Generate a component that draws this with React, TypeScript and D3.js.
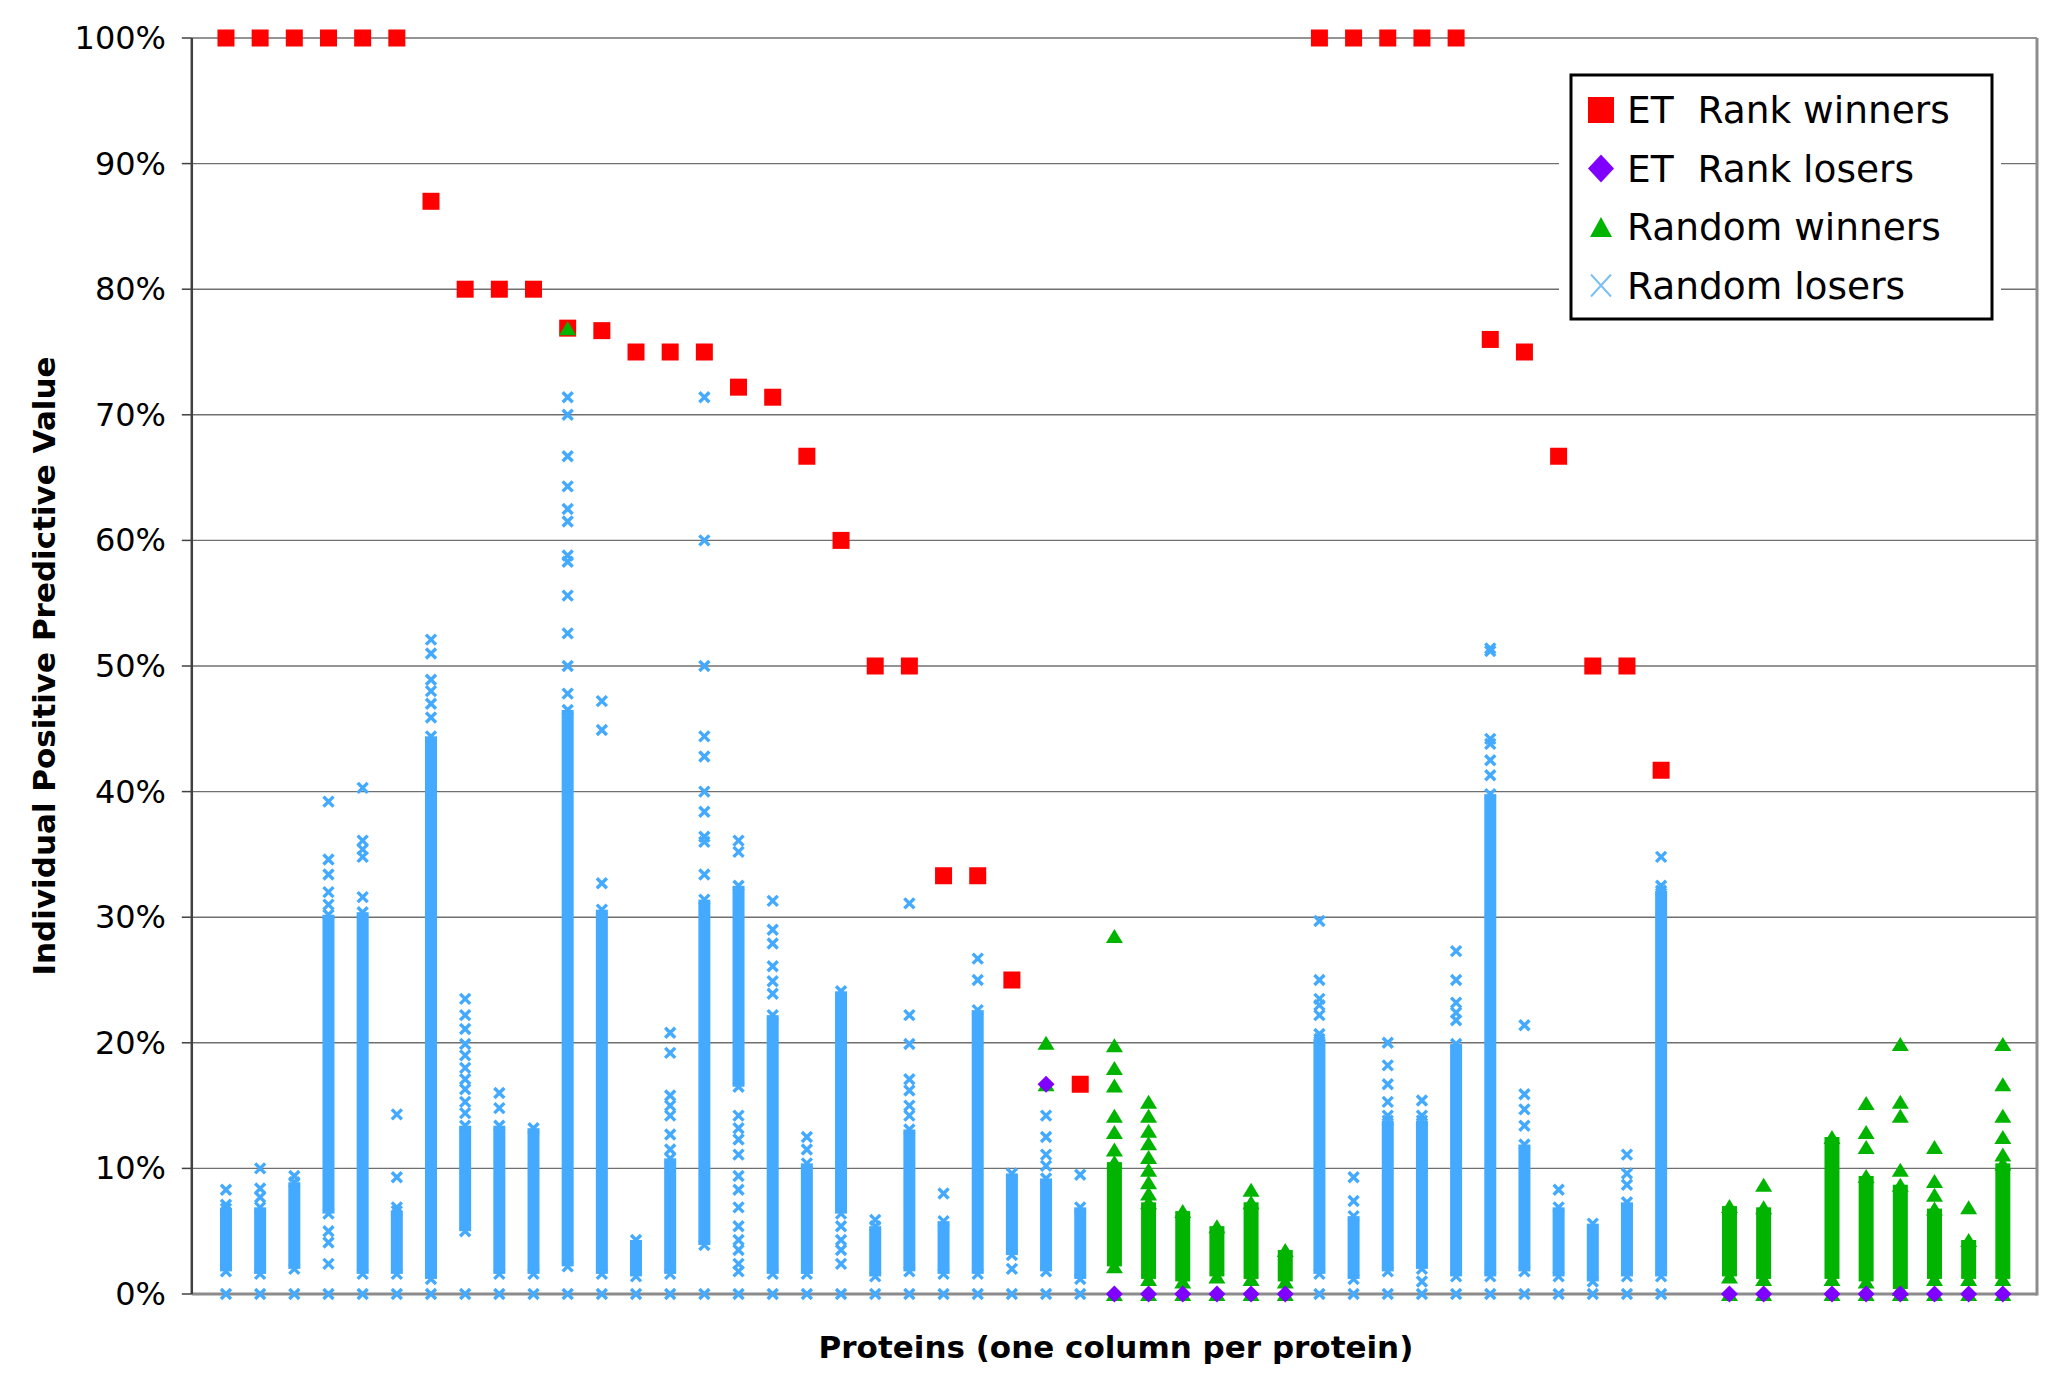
import * as d3 from 'd3'

// ET Rank winners: [protein column, PPV %]
const etWinners: [number, number][] = [
  [1, 100], [2, 100], [3, 100], [4, 100], [5, 100], [6, 100], [7, 87],
  [8, 80], [9, 80], [10, 80], [11, 76.9], [12, 76.7], [13, 75], [14, 75],
  [15, 75], [16, 72.2], [17, 71.4], [18, 66.7], [19, 60], [20, 50], [21, 50],
  [22, 33.3], [23, 33.3], [24, 25], [26, 16.7], [33, 100], [34, 100],
  [35, 100], [36, 100], [37, 100], [38, 76], [39, 75], [40, 66.7], [41, 50],
  [42, 50], [43, 41.7],
]

// ET Rank losers
const etLosers: [number, number][] = [
  [25, 16.7], [27, 0], [28, 0], [29, 0], [30, 0], [31, 0], [32, 0],
  [45, 0], [46, 0], [48, 0], [49, 0], [50, 0], [51, 0], [52, 0], [53, 0],
]

// Random winners: dense runs [column, low %, high %] and single points
const randomWinnerRuns: [number, number, number][] = [
  [27, 2.2, 10.5], [28, 1.2, 7.3], [29, 1.0, 6.6], [30, 1.4, 5.4],
  [31, 1.2, 7.3], [32, 1.0, 3.5], [45, 1.4, 7.0], [46, 1.2, 6.9],
  [48, 1.2, 12.5], [49, 1.0, 9.4], [50, 0.4, 8.7], [51, 1.2, 6.8],
  [52, 1.2, 4.3], [53, 1.2, 10.4],
]
const randomWinners: [number, number][] = [
  [11, 76.9], [25, 16.7], [25, 20],
  [27, 11.5], [27, 12.9], [27, 14.2], [27, 16.6], [27, 18], [27, 19.8], [27, 28.5],
  [28, 8.0], [28, 8.9], [28, 9.9], [28, 10.9], [28, 12], [28, 13], [28, 14.2], [28, 15.3],
  [31, 8.3], [46, 8.7], [49, 11.7], [49, 12.9], [49, 15.2],
  [50, 9.9], [50, 14.2], [50, 15.3], [50, 19.9],
  [51, 7.9], [51, 9.0], [51, 11.7], [52, 6.9],
  [53, 11.1], [53, 12.5], [53, 14.2], [53, 16.7], [53, 19.9],
]
const randomWinnerZeroCols = [27, 28, 29, 30, 31, 32, 45, 46, 48, 49, 50, 51, 52, 53]

// Random losers: dense runs [column, low %, high %] and single points
const randomLoserRuns: [number, number, number][] = [
  [1, 1.8, 6.8], [2, 1.6, 6.9], [3, 2.0, 8.9], [4, 6.4, 30.2], [5, 1.6, 30.4],
  [6, 1.6, 6.6], [7, 1.2, 44.4], [8, 5.0, 13.4], [9, 1.6, 13.4], [10, 1.6, 13.2],
  [11, 2.2, 46.5], [12, 1.6, 30.6], [13, 1.4, 4.3], [14, 1.6, 10.8], [15, 3.9, 31.4],
  [16, 16.5, 32.5], [17, 1.6, 22.2], [18, 1.6, 10.4], [19, 6.4, 24.1], [20, 1.4, 5.4],
  [21, 1.8, 13.1], [22, 1.6, 5.8], [23, 1.6, 22.6], [24, 3.1, 9.6], [25, 1.8, 9.2],
  [26, 1.2, 6.9], [33, 1.6, 20.3], [34, 1.2, 6.2], [35, 1.8, 13.8], [36, 2.0, 13.8],
  [37, 1.4, 19.9], [38, 1.4, 39.8], [39, 1.8, 11.9], [40, 1.4, 6.9], [41, 1.0, 5.6],
  [42, 1.4, 7.3], [43, 1.4, 32.1],
]
const randomLosers: [number, number][] = [
  [1, 7.1], [1, 8.3], [2, 7.7], [2, 8.4], [2, 10], [3, 9.4],
  [4, 2.4], [4, 4.1], [4, 5.0], [4, 31], [4, 32], [4, 33.4], [4, 34.6], [4, 39.2],
  [5, 31.6], [5, 34.8], [5, 35.4], [5, 36.1], [5, 40.3],
  [6, 6.9], [6, 9.3], [6, 14.3],
  [7, 45.9], [7, 47], [7, 48], [7, 48.9], [7, 51], [7, 52.1],
  [8, 14.4], [8, 15.3], [8, 16.3], [8, 17.1], [8, 18], [8, 19], [8, 19.9], [8, 21.1], [8, 22.2], [8, 23.5],
  [9, 14.8], [9, 16],
  [11, 47.8], [11, 50], [11, 52.6], [11, 55.6], [11, 58.3], [11, 58.8], [11, 61.5],
  [11, 62.5], [11, 64.3], [11, 66.7], [11, 70], [11, 71.4],
  [12, 32.7], [12, 44.9], [12, 47.2],
  [14, 11.5], [14, 12.7], [14, 14.2], [14, 15], [14, 15.8], [14, 19.2], [14, 20.8],
  [15, 33.4], [15, 36], [15, 36.4], [15, 38.4], [15, 40], [15, 42.8], [15, 44.4],
  [15, 50], [15, 60], [15, 71.4],
  [16, 1.8], [16, 2.4], [16, 3.5], [16, 4.3], [16, 5.4], [16, 6.9], [16, 8.3], [16, 9.4],
  [16, 11.1], [16, 12.3], [16, 13.2], [16, 14.2], [16, 35.2], [16, 36.1],
  [17, 23.9], [17, 24.9], [17, 26.1], [17, 27.9], [17, 29], [17, 31.3],
  [18, 11.5], [18, 12.5], [19, 2.4], [19, 3.5], [19, 4.3], [19, 5.4], [20, 5.9],
  [21, 14.2], [21, 15], [21, 16.2], [21, 17.1], [21, 19.9], [21, 22.2], [21, 31.1],
  [22, 8], [23, 25], [23, 26.7], [24, 2.0],
  [25, 10.2], [25, 11.1], [25, 12.5], [25, 14.2], [26, 9.5],
  [33, 20.7], [33, 22.2], [33, 23], [33, 23.5], [33, 25], [33, 29.7],
  [34, 7.4], [34, 9.3],
  [35, 14.2], [35, 15.3], [35, 16.7], [35, 18.2], [35, 20],
  [36, 1.0], [36, 14.2], [36, 15.4],
  [37, 21.8], [37, 22.4], [37, 23.2], [37, 25], [37, 27.3],
  [38, 41.3], [38, 42.5], [38, 43.8], [38, 44.2], [38, 51.2], [38, 51.4],
  [39, 13.4], [39, 14.7], [39, 15.9], [39, 21.4], [40, 8.3],
  [42, 8.7], [42, 9.6], [42, 11.1], [43, 32.5], [43, 34.8],
]
const randomLoserZeroCols = [
  1, 2, 3, 4, 5, 6, 7, 8, 9, 10, 11, 12, 13, 14, 15, 16, 17, 18, 19, 20, 21, 22,
  23, 24, 25, 26, 33, 34, 35, 36, 37, 38, 39, 40, 41, 42, 43,
]

const yTicks = [0, 10, 20, 30, 40, 50, 60, 70, 80, 90, 100]
const legendLabels = ['ET  Rank winners', 'ET  Rank losers', 'Random winners', 'Random losers']

const RED = '#ff0000'
const PURPLE = '#7f00ff'
const GREEN = '#00b400'
const BLUE = '#44aaff'
const FONT = '"DejaVu Sans", Verdana, sans-serif'

const square = 'M-8.5,-8.5H8.5V8.5H-8.5Z'
const diamond = 'M0,-8.5L8.5,0L0,8.5L-8.5,0Z'
const triangle = 'M0,-7L8.5,7L-8.5,7Z'
const cross = 'M-5,-5L5,5M-5,5L5,-5'

const App = () => {
  const width = 2071
  const height = 1389
  const left = 191.8
  const right = 2037
  const top = 38
  const bottom = 1294

  const x = d3.scaleLinear().domain([0, 54]).range([left, right])
  const y = d3.scaleLinear().domain([0, 100]).range([bottom, top])

  const loserPts: [number, number][] = [
    ...randomLosers,
    ...randomLoserZeroCols.map((c) => [c, 0] as [number, number]),
    ...randomLoserRuns.flatMap(([c, lo, hi]) => [[c, lo], [c, hi]] as [number, number][]),
  ]
  const winnerPts: [number, number][] = [
    ...randomWinners,
    ...randomWinnerZeroCols.map((c) => [c, 0] as [number, number]),
    ...randomWinnerRuns.flatMap(([c, lo, hi]) => [[c, lo], [c, hi]] as [number, number][]),
  ]

  return (
    <svg
      width={width}
      height={height}
      style={{ position: 'absolute', left: 0, top: 0, background: '#fff' }}
      fontFamily={FONT}
    >
      <rect width={width} height={height} fill="#fff" />

      {/* gridlines */}
      {yTicks.filter((t) => t > 0).map((t) => (
        <line key={t} x1={left} x2={right} y1={y(t)} y2={y(t)} stroke="#707070" strokeWidth={1.4} />
      ))}
      <line x1={left} x2={right} y1={bottom} y2={bottom} stroke="#8c8c8c" strokeWidth={3} />
      <line x1={right} x2={right} y1={top} y2={bottom + 1.5} stroke="#8c8c8c" strokeWidth={3} />
      <line x1={left} x2={left} y1={top} y2={bottom} stroke="#404040" strokeWidth={2.5} />
      {yTicks.map((t) => (
        <g key={t}>
          <line x1={left - 10} x2={left} y1={y(t)} y2={y(t)} stroke="#404040" strokeWidth={1.5} />
          <text x={166} y={y(t) + 11} fontSize={32} textAnchor="end" fill="#000">
            {t}%
          </text>
        </g>
      ))}

      {/* random losers */}
      {randomLoserRuns.map(([c, lo, hi], i) => (
        <rect key={'lr' + i} x={x(c) - 6} width={12} y={y(hi)} height={y(lo) - y(hi)} fill={BLUE} />
      ))}
      {loserPts.map(([c, v], i) => (
        <path key={'l' + i} d={cross} transform={`translate(${x(c)},${y(v)})`} stroke={BLUE} strokeWidth={3.4} fill="none" />
      ))}

      {/* ET Rank winners */}
      {etWinners.map(([c, v], i) => (
        <path key={'w' + i} d={square} transform={`translate(${x(c)},${y(v)})`} fill={RED} />
      ))}

      {/* random winners */}
      {randomWinnerRuns.map(([c, lo, hi], i) => (
        <rect key={'gr' + i} x={x(c) - 7.5} width={15} y={y(hi)} height={y(lo) - y(hi)} fill={GREEN} />
      ))}
      {winnerPts.map(([c, v], i) => (
        <path key={'g' + i} d={triangle} transform={`translate(${x(c)},${y(v)})`} fill={GREEN} />
      ))}

      {/* ET Rank losers */}
      {etLosers.map(([c, v], i) => (
        <path key={'p' + i} d={diamond} transform={`translate(${x(c)},${y(v)})`} fill={PURPLE} />
      ))}

      {/* legend */}
      <rect x={1559} y={67} width={442} height={260} fill="#fff" />
      <rect x={1571} y={75} width={421} height={244} fill="#fff" stroke="#000" strokeWidth={3} />
      {legendLabels.map((label, i) => {
        const cy = 110 + i * 58.5
        return (
          <g key={label}>
            {i === 0 && <rect x={1588} y={cy - 13} width={26} height={26} fill={RED} />}
            {i === 1 && <path d="M0,-14L13,0L0,14L-13,0Z" transform={`translate(1601,${cy})`} fill={PURPLE} />}
            {i === 2 && <path d="M0,-10L11,10L-11,10Z" transform={`translate(1601,${cy})`} fill={GREEN} />}
            {i === 3 && (
              <path d="M-10,-11L10,11M-10,11L10,-11" transform={`translate(1601,${cy})`} stroke="#7cc0f4" strokeWidth={2} fill="none" />
            )}
            <text x={1627} y={cy + 13} fontSize={37.5} fill="#000" style={{ whiteSpace: 'pre' }}>
              {label}
            </text>
          </g>
        )
      })}

      {/* axis titles */}
      <text
        transform={`translate(44,${(top + bottom) / 2}) rotate(-90)`}
        dy="0.36em"
        textAnchor="middle"
        fontSize={31}
        fontWeight="bold"
        fill="#000"
      >
        Individual Positive Predictive Value
      </text>
      <text x={1116} y={1358} textAnchor="middle" fontSize={31} fontWeight="bold" fill="#000">
        Proteins (one column per protein)
      </text>
    </svg>
  )
}

export default App
